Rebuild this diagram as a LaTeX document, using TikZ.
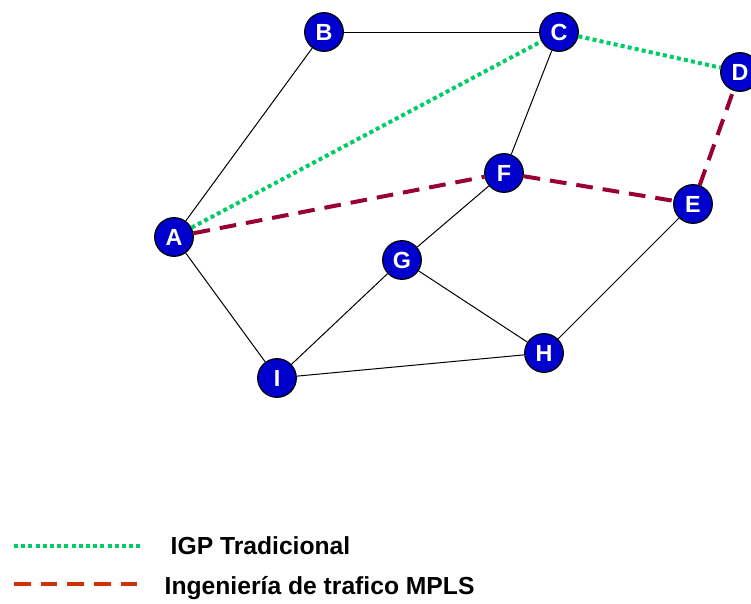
\documentclass[tikz,border=0pt]{standalone}
\usepackage{fontspec}
\setmainfont{Liberation Sans}
\definecolor{nodeblue}{RGB}{0,0,204}
\definecolor{igpgreen}{RGB}{0,204,102}
\definecolor{tepath}{RGB}{153,0,51}
\definecolor{teleg}{RGB}{204,51,0}
\begin{document}
\begin{tikzpicture}[x=0.75pt,y=-0.75pt,
  router/.style={circle,draw=black,line width=0.9pt,fill=nodeblue,minimum size=29pt,inner sep=0pt,
    text=white,font=\bfseries\fontsize{17.5}{19}\selectfont},
  link/.style={draw=black,line width=0.75pt},
  igp/.style={draw=igpgreen,line width=3pt,dash pattern=on 3pt off 2.4pt},
  te/.style={draw=tepath,line width=3pt,dash pattern=on 12.5pt off 7.5pt},
  legtxt/.style={anchor=west,font=\bfseries\fontsize{18.5}{20}\selectfont}]
\useasboundingbox (0,0) rectangle (751,604);
% routers
\node[router] (B) at (324,32) {B};
\node[router] (C) at (559,32) {C};
\node[router] (D) at (740,72) {D};
\node[router] (E) at (693,204) {E};
\node[router] (F) at (504,173) {F};
\node[router] (A) at (174,237) {A};
\node[router] (G) at (402,260) {G};
\node[router] (H) at (544,353) {H};
\node[router] (I) at (277,378) {I};
% physical links
\path[link] (A) -- (B);
\path[link] (B) -- (C);
\path[link] (C) -- (F);
\path[link] (F) -- (G);
\path[link] (A) -- (I);
\path[link] (I) -- (G);
\path[link] (G) -- (H);
\path[link] (I) -- (H);
\path[link] (H) -- (E);
% traditional IGP route
\path[igp] (A) -- (C);
\path[igp] (C) -- (D);
% MPLS traffic engineering route
\path[te] (A) -- (F);
\path[te] (F) -- (E);
\path[te] (E) -- (D);
% legend
\coordinate (l1a) at (14,546);
\coordinate (l1b) at (140,546);
\coordinate (l2a) at (14,584);
\coordinate (l2b) at (140,584);
\draw[igp] (l1a) -- (l1b);
\draw[te,draw=teleg] (l2a) -- (l2b);
\node[legtxt] (t1) at (166,546) {IGP Tradicional};
\node[legtxt] (t2) at (160,588) {Ingeniería de trafico MPLS};
\end{tikzpicture}
\end{document}
